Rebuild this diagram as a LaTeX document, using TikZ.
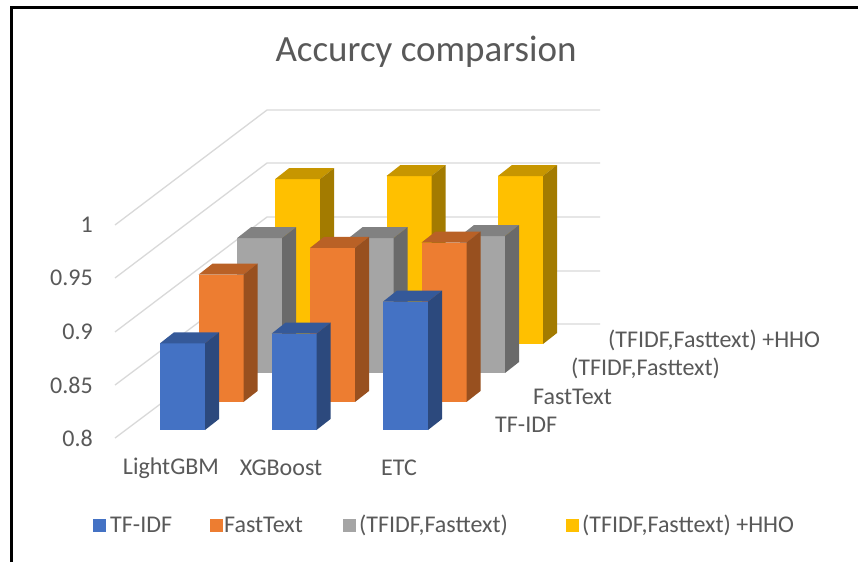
\documentclass[tikz,border=0pt]{standalone}
\usepackage{fontspec}
\setmainfont{Carlito}
\usepackage{tikz}
\usepackage{xcolor}
\definecolor{FontColor}{HTML}{595959}
\definecolor{GridColor}{HTML}{D9D9D9}
\definecolor{BlueAC}{HTML}{4472C4}
\definecolor{OrangeAC}{HTML}{ED7D31}
\definecolor{GrayAC}{HTML}{A5A5A5}
\definecolor{GoldAC}{HTML}{FFC000}
\newcommand\labtitle{Accurcy comparsion}
\newcommand\labtf{TF-IDF}
\newcommand\labft{FastText}
\newcommand\labboth{(TFIDF,Fasttext)}
\newcommand\labhho{(TFIDF,Fasttext) +HHO}
\newcommand\lablgbm{LightGBM}
\newcommand\labxgb{XGBoost}
\newcommand\labetc{ETC}
% bar: colour, left x, bottom y, value
\newcommand\drawbar[4]{%
  \pgfmathsetmacro\barh{(#4-0.8)*1070}
  \fill[#1] (#2,#3) rectangle ++(45,\barh);
  \fill[#1!78!black] (#2,#3+\barh) -- ++(14,11) -- ++(45,0) -- ++(-14,-11) -- cycle;
  \fill[#1!64!black] (#2+45,#3) -- ++(14,11) -- ++(0,\barh) -- ++(-14,-11) -- cycle;
}
\tikzstyle{txt} = [text=FontColor, inner sep=0pt, font=\fontsize{24}{24}\selectfont]
\tikzstyle{tick} = [txt, anchor=east]
\tikzstyle{cat} = [txt]
\tikzstyle{ser} = [txt, anchor=west]
\tikzstyle{key} = [minimum size=13pt, inner sep=0pt]
\tikzstyle{gridline} = [draw=GridColor, line width=1.3pt]
\tikzset{x=1pt, y=1pt}

\begin{document}
\begin{tikzpicture}
\useasboundingbox (0,0) rectangle (858,562);
\fill[white] (0,0) rectangle (858,562);
\draw[line width=3pt] (11,0) -- (11,554) -- (858,554);
\node[txt, font=\fontsize{37}{37}\selectfont] (title) at (426, 510) {\labtitle};
% grid walls
\draw[gridline] (115,124) -- (267,238) -- (600,238);
\draw[gridline] (115,177) -- (267,291) -- (600,291);
\draw[gridline] (115,230) -- (267,345) -- (600,345);
\draw[gridline] (115,284) -- (267,399) -- (600,399);
\draw[gridline] (115,337) -- (267,452) -- (600,452);
\node[tick] (t80) at (93, 124) {0.8};
\node[tick] (t85) at (93, 177) {0.85};
\node[tick] (t90) at (93, 230) {0.9};
\node[tick] (t95) at (93, 284) {0.95};
\node[tick] (t100) at (93, 337) {1};
% bars, back row first
\drawbar{GoldAC}{275}{218}{0.954}
\drawbar{GoldAC}{386.5}{218}{0.957}
\drawbar{GoldAC}{498}{218}{0.957}
\drawbar{GrayAC}{237}{189}{0.926}
\drawbar{GrayAC}{348.5}{189}{0.926}
\drawbar{GrayAC}{460}{189}{0.928}
\drawbar{OrangeAC}{198.5}{160}{0.919}
\drawbar{OrangeAC}{310}{160}{0.944}
\drawbar{OrangeAC}{421.5}{160}{0.949}
\drawbar{BlueAC}{160}{132}{0.881}
\drawbar{BlueAC}{271.5}{132}{0.890}
\drawbar{BlueAC}{383}{132}{0.920}
\node[cat] (lgbm) at (171, 94) {\lablgbm};
\node[cat] (xgb) at (281, 94) {\labxgb};
\node[cat] (etc) at (399, 94) {\labetc};
\node[ser] (stf) at (495, 137) {\labtf};
\node[ser] (sft) at (533, 165) {\labft};
\node[ser] (sboth) at (571, 194) {\labboth};
\node[ser] (shho) at (608, 222) {\labhho};
% legend
\node[key, fill=BlueAC] (ktf) at (99, 37) {};
\node[ser] (ltf) at (110, 37) {\labtf};
\node[key, fill=OrangeAC] (kft) at (216, 37) {};
\node[ser] (lft) at (224, 37) {\labft};
\node[key, fill=GrayAC] (kboth) at (349, 37) {};
\node[ser] (lboth) at (359, 37) {\labboth};
\node[key, fill=GoldAC] (khho) at (572, 37) {};
\node[ser] (lhho) at (582, 37) {\labhho};
\end{tikzpicture}
\end{document}
